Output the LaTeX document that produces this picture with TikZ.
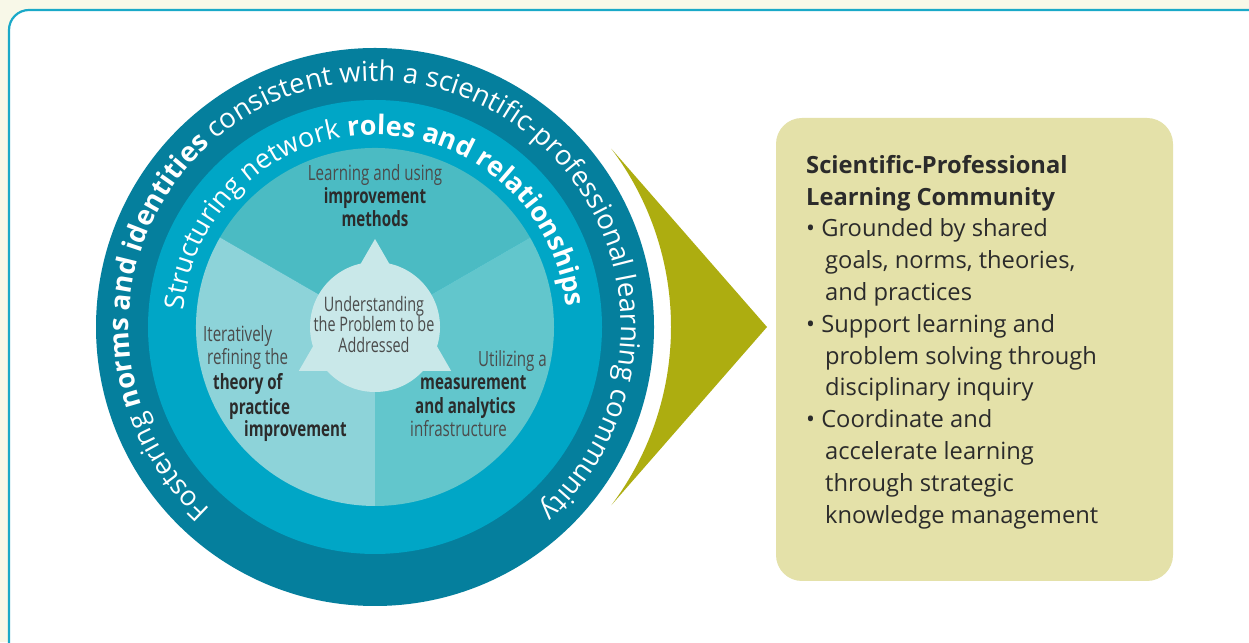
\documentclass[tikz,border=0pt]{standalone}
\usepackage{fontspec}
\setmainfont{Open Sans}
\newfontfamily\condfont[FakeStretch=0.72]{Open Sans}
\usetikzlibrary{decorations.text}

\definecolor{pagecream}{HTML}{F8F8E8}
\definecolor{framecyan}{HTML}{1AA9C8}
\definecolor{ringdark}{HTML}{057F9D}
\definecolor{ringmid}{HTML}{00A6C6}
\definecolor{sectortop}{HTML}{4BBBC3}
\definecolor{sectorleft}{HTML}{8DD3D9}
\definecolor{sectorright}{HTML}{62C6CC}
\definecolor{corelight}{HTML}{C9E8E9}
\definecolor{arrowolive}{HTML}{ADAD10}
\definecolor{boxkhaki}{HTML}{E4E1A9}
\definecolor{inktext}{HTML}{2B2B2B}

\newcommand\ringtxt{\fontsize{27.5}{30}\selectfont\color{white}}
\newcommand\ringbf{\fontsize{27.5}{30}\selectfont\bfseries\color{white}}
\newcommand\midtxt{\fontsize{27}{30}\selectfont\color{white}}
\newcommand\midbf{\fontsize{27}{30}\selectfont\bfseries\color{white}}

\begin{document}
\begin{tikzpicture}[x=1pt,y=1pt,
	sectortext/.style={font=\condfont\fontsize{21}{24}\selectfont, text=inktext!85, inner sep=0pt},
	sectorbold/.style={font=\condfont\bfseries\fontsize{21}{24}\selectfont, text=inktext, inner sep=0pt},
	coretext/.style={font=\condfont\fontsize{20}{22}\selectfont, text=inktext!85, inner sep=0pt},
	boxtext/.style={font=\fontsize{23.7}{31.8}\selectfont, text=inktext, align=left, inner sep=0pt}]
	\useasboundingbox (0,0) rectangle (1249,642);
	\fill[pagecream] (0,0) rectangle (1249,642);
	\draw[framecyan, line width=2.2pt, fill=white, rounded corners=20pt] (9,632) rectangle (1270,-20);

	% wheel
	\coordinate (c) at (375,315);
	\fill[ringdark] (c) circle[radius=279];
	\fill[ringmid] (c) circle[radius=227];
	\fill[sectortop] (c) -- ([shift={(30:179)}]c) arc[start angle=30, end angle=150, radius=179] -- cycle;
	\fill[sectorleft] (c) -- ([shift={(150:179)}]c) arc[start angle=150, end angle=270, radius=179] -- cycle;
	\fill[sectorright] (c) -- ([shift={(270:179)}]c) arc[start angle=270, end angle=390, radius=179] -- cycle;
	\fill[corelight] (c) circle[radius=65];
	\fill[corelight] ([shift={(90:88)}]c) -- ([shift={(210:88)}]c) -- ([shift={(330:88)}]c) -- cycle;

	% ring texts
	\path[decorate, decoration={text along path, text align=center,
		text={|\ringtxt|Fostering |\ringbf|norms and identities |\ringtxt|consistent with a scientific-professional learning community}}]
		([shift={(268:246)}]c) arc[start angle=268, end angle=-88, radius=246];
	\path[decorate, decoration={text along path, text align=center,
		text={|\midtxt|Structuring network |\midbf|roles and relationships}}]
		([shift={(270:192)}]c) arc[start angle=270, end angle=-89, radius=192];

	% sector texts
	\node[sectortext, anchor=base] (topa) at (375,461) {Learning and using};
	\node[sectorbold, anchor=base] (topb) at (375,438) {improvement};
	\node[sectorbold, anchor=base] (topc) at (375,415) {methods};
	\node[sectortext, anchor=base west] (lefta) at (203,300) {Iteratively};
	\node[sectortext, anchor=base west] (leftb) at (207,277) {refining the};
	\node[sectorbold, anchor=base west] (leftc) at (213,252) {theory of};
	\node[sectorbold, anchor=base west] (leftd) at (229,227) {practice};
	\node[sectorbold, anchor=base west] (lefte) at (244,205) {improvement};
	\node[sectortext, anchor=base west] (righta) at (478,275) {Utilizing a};
	\node[sectorbold, anchor=base west] (rightb) at (420,252) {measurement};
	\node[sectorbold, anchor=base west] (rightc) at (415,228) {and analytics};
	\node[sectortext, anchor=base west] (rightd) at (410,205) {infrastructure};
	\node[coretext, anchor=base] (corea) at (374,330) {Understanding};
	\node[coretext, anchor=base] (coreb) at (374,310) {the Problem to be};
	\node[coretext, anchor=base] (corec) at (374,289) {Addressed};

	% arrow and box
	\fill[arrowolive] ([shift={(37:296)}]c) -- (767,315) -- ([shift={(-37:296)}]c) arc[start angle=-37, end angle=37, radius=296] -- cycle;
	\fill[boxkhaki, rounded corners=26pt] (776,524) rectangle (1173,61);
	\node[boxtext, anchor=north west] (plc) at (806,487) {\textbf{Scientific-Professional}\\
		\textbf{Learning Community}\\
		• Grounded by shared\\
		\hspace*{19pt}goals, norms, theories,\\
		\hspace*{19pt}and practices\\
		• Support learning and\\
		\hspace*{19pt}problem solving through\\
		\hspace*{19pt}disciplinary inquiry\\
		• Coordinate and\\
		\hspace*{19pt}accelerate learning\\
		\hspace*{19pt}through strategic\\
		\hspace*{19pt}knowledge management};
\end{tikzpicture}
\end{document}
